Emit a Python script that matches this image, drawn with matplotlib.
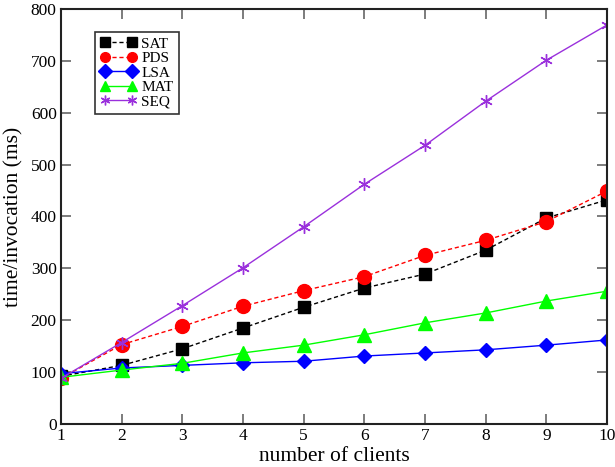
import matplotlib
matplotlib.use("Agg")
import matplotlib.pyplot as plt

clients = [1, 2, 3, 4, 5, 6, 7, 8, 9, 10]
sat = [92, 113, 145, 185, 225, 262, 289, 335, 397, 432]
pds = [88, 153, 188, 227, 257, 284, 325, 354, 390, 449]
lsa = [97, 108, 113, 118, 121, 131, 137, 143, 152, 162]
mat = [90, 104, 117, 137, 152, 172, 195, 214, 237, 256]
seq = [88, 157, 228, 301, 380, 462, 537, 622, 701, 769]
yticks = [0, 100, 200, 300, 400, 500, 600, 700, 800]

plt.rcParams['font.family'] = ['Liberation Serif', 'DejaVu Serif']
fig = plt.figure(figsize=(6.15, 4.67), dpi=100)
ax = fig.add_axes([0.099, 0.092, 0.888, 0.889])

ax.plot(clients, sat, color='black', ls='--', lw=1, marker='s', ms=8, dashes=(3, 2), label='SAT')
ax.plot(clients, pds, color='red', ls='--', lw=1, marker='o', ms=10, dashes=(3, 2), label='PDS')
ax.plot(clients, lsa, color='blue', ls='-', lw=1, marker='D', ms=7, label='LSA')
ax.plot(clients, mat, color='#00ff00', ls='-', lw=1, marker='^', ms=10, label='MAT')
ax.plot(clients, seq, color='#9a30dc', ls='-', lw=1, marker=(6, 2, 0), ms=9, mew=1, label='SEQ')

ax.set_xlim(1, 10)
ax.set_ylim(0, 800)
ax.set_xticks(clients)
ax.set_yticks(yticks)
ax.tick_params(direction='in', top=True, right=True, labelsize=12.5, length=7, width=1.2, color='#666666', pad=3)
for s in ax.spines.values():
    s.set_linewidth(1.5)
    s.set_color('#222222')
ax.set_xlabel('number of clients', fontsize=15.5, labelpad=2)
ax.set_ylabel('time/invocation (ms)', fontsize=15.5, labelpad=5)

leg = ax.legend(loc='upper left', bbox_to_anchor=(0.062, 0.945), numpoints=2, handlelength=2.4,
                fontsize=11, frameon=True, fancybox=False, edgecolor='black', borderpad=0.35,
                labelspacing=0.05, handletextpad=0.3, borderaxespad=0)
leg.get_frame().set_linewidth(1.2)
for h in leg.legend_handles:
    h.set_markersize(7)

fig.savefig('out.png', dpi=100)
